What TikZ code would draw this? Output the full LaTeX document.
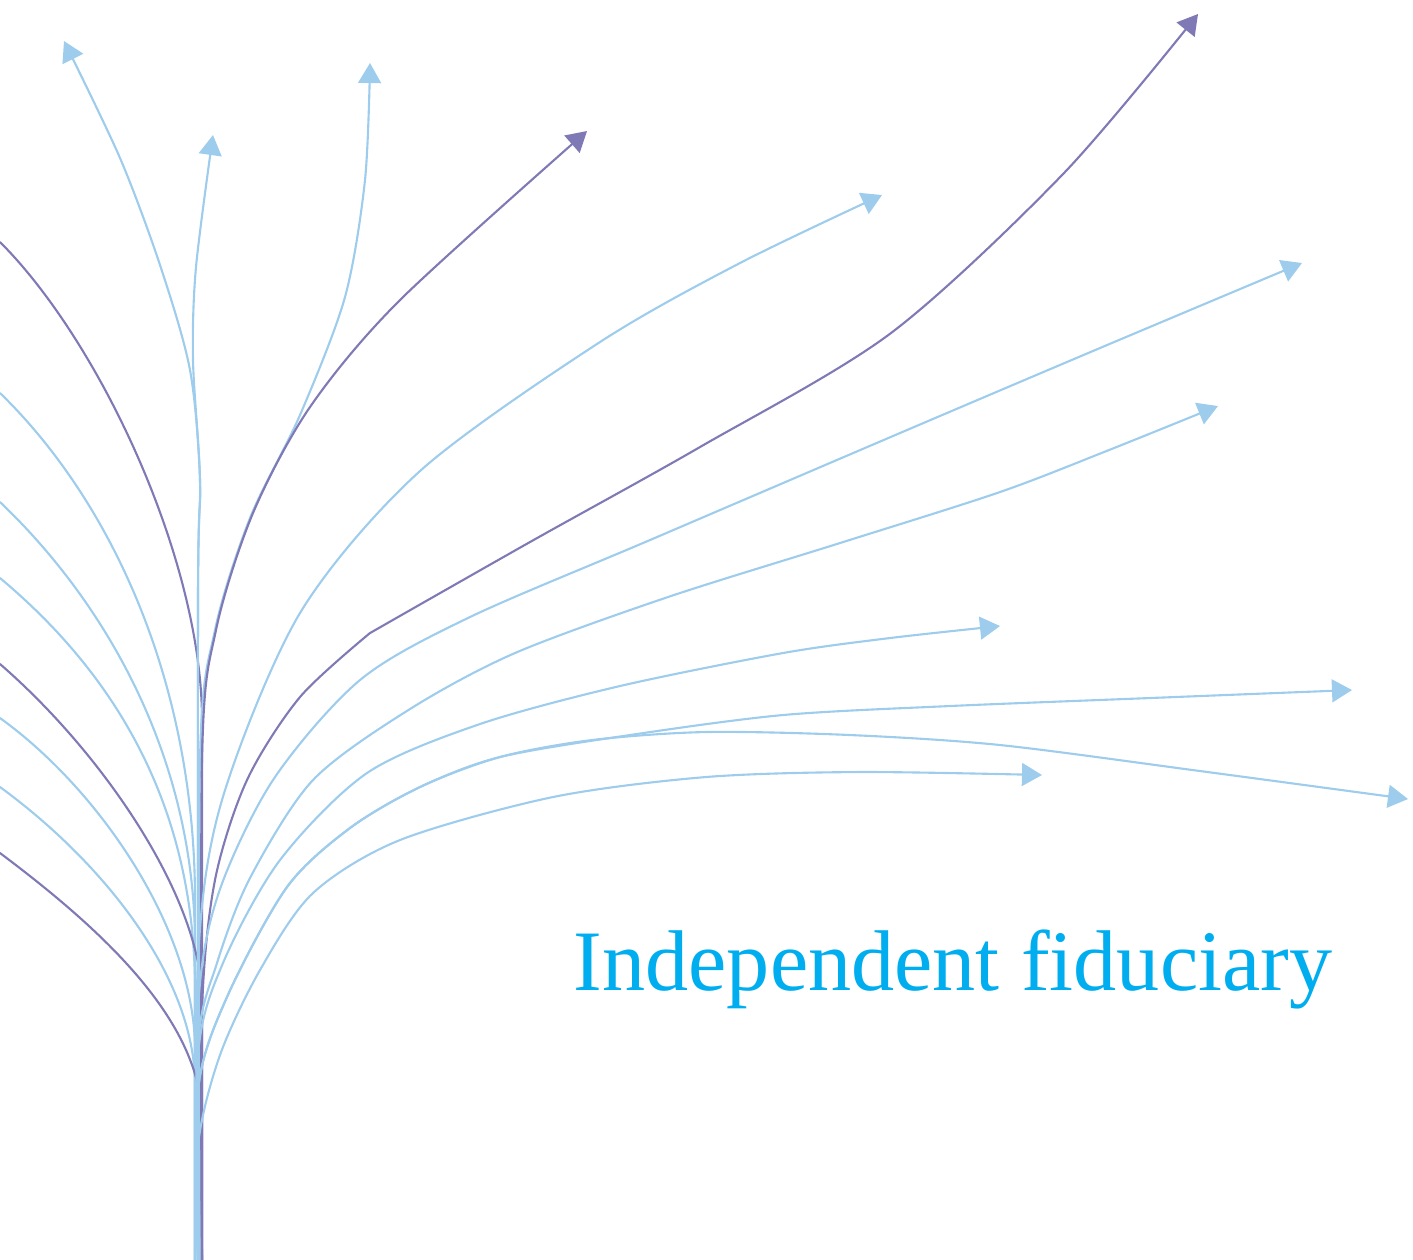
\documentclass[tikz,border=0pt]{standalone}
\usepackage{fontspec}
\setmainfont{Liberation Serif}
\usetikzlibrary{arrows.meta}
\definecolor{xanhnhat}{RGB}{158,204,236}
\definecolor{timnhat}{RGB}{127,121,181}
\definecolor{xanhchu}{RGB}{0,174,239}
\begin{document}
\begin{tikzpicture}[x=0.01cm, y=-0.01cm, line join=round, line cap=round,
	>={Triangle[length=5.7pt,width=6.5pt]},
	nhanhxanh/.style={draw=xanhnhat, line width=0.6pt},
	nhanhtim/.style={draw=timnhat, line width=0.6pt}]
	%Khung hình.
	\useasboundingbox (0,0) rectangle (1413,1259);
	\clip (0,0) rectangle (1413,1259);
	%Gán tọa độ các đầu mũi tên.
	\coordinate (A1) at (64,41);
	\coordinate (A2) at (213,135);
	\coordinate (A3) at (370,63);
	\coordinate (A4) at (587,131);
	\coordinate (B1) at (882,195);
	\coordinate (B2) at (1198,14);
	\coordinate (B3) at (1302,263);
	\coordinate (B4) at (1218,406);
	\coordinate (B5) at (1000,626);
	\coordinate (B6) at (1352,690);
	\coordinate (B7) at (1408,799);
	\coordinate (B8) at (1042,775);
	%Các nhánh bên trái.
	\draw[nhanhtim] (0,242) .. controls (100,342) and (202,560) .. (202,720) -- (202,1262);
	\draw[nhanhxanh] (0,393) .. controls (110,500) and (195,680) .. (195,900) -- (195,1262);
	\draw[nhanhxanh] (0,502) .. controls (108,605) and (195,760) .. (195,945) -- (195,1262);
	\draw[nhanhxanh] (0,578) .. controls (110,670) and (195,800) .. (195,990) -- (195,1262);
	\draw[nhanhtim] (0,664) .. controls (105,755) and (202,900) .. (202,1000) -- (202,1262);
	\draw[nhanhxanh] (0,718) .. controls (100,790) and (195,930) .. (195,1050) -- (195,1262);
	\draw[nhanhxanh] (0,787) .. controls (100,860) and (195,975) .. (195,1085) -- (195,1262);
	\draw[nhanhtim] (0,853) .. controls (100,928) and (202,1020) .. (202,1120) -- (202,1262);
	%Các nhánh hướng lên.
	\draw[nhanhxanh,->] plot[smooth] coordinates {(198,1262) (198,600) (200,480) (190,370) (160,265) (120,158) (A1)};
	\draw[nhanhxanh,->] plot[smooth] coordinates {(198,1262) (198,600) (200,480) (193,360) (196,267) (A2)};
	\draw[nhanhxanh,->] plot[smooth] coordinates {(200,1262) (200,760) (215,630) (250,518) (300,415) (345,297) (365,180) (A3)};
	\draw[nhanhtim,->] plot[smooth] coordinates {(202,1262) (202,760) (216,630) (253,513) (310,407) (400,300) (A4)};
	%Các nhánh hướng sang phải.
	\draw[nhanhxanh,->] plot[smooth] coordinates {(198,1262) (198,960) (222,800) (300,613) (420,471) (600,342) (740,263) (B1)};
	\draw[nhanhtim,->] plot[smooth] coordinates {(202,1262) (202,1010) (215,880) (247,780) (300,697) (370,633)}
		-- plot[smooth] coordinates {(370,633) (530,542) (700,447) (891,333) (1064,173) (B2)};
	\draw[nhanhxanh,->] plot[smooth] coordinates {(198,1262) (198,1010) (218,895) (273,780) (360,680) (470,617) (650,540) (900,433) (1100,348) (B3)};
	\draw[nhanhxanh,->] plot[smooth] coordinates {(198,1262) (198,1045) (217,963) (250,878) (313,780) (410,709) (515,653) (668,597) (840,543) (1000,492) (1109,450) (B4)};
	\draw[nhanhxanh,->] plot[smooth] coordinates {(198,1262) (198,1055) (223,963) (280,860) (367,773) (480,724) (620,686) (783,653) (890,638) (B5)};
	\draw[nhanhxanh,->] plot[smooth] coordinates {(198,1262) (198,1090) (227,997) (287,887) (350,828) (420,787) (500,757) (630,735) (783,715) (950,706) (1150,698) (B6)};
	\draw[nhanhxanh,->] plot[smooth] coordinates {(198,1262) (198,1090) (227,997) (287,887) (350,828) (420,787) (500,757) (592,740) (706,732) (850,735) (1000,745) (1200,771) (B7)};
	\draw[nhanhxanh,->] plot[smooth] coordinates {(198,1262) (198,1145) (220,1055) (260,970) (313,893) (400,840) (553,797) (706,777) (860,772) (B8)};
	%Chữ.
	\node[anchor=base, inner sep=0pt, text=xanhchu, font=\fontsize{24.5}{29}\selectfont] (nhan) at (953,990) {Independent fiduciary};
\end{tikzpicture}
\end{document}
